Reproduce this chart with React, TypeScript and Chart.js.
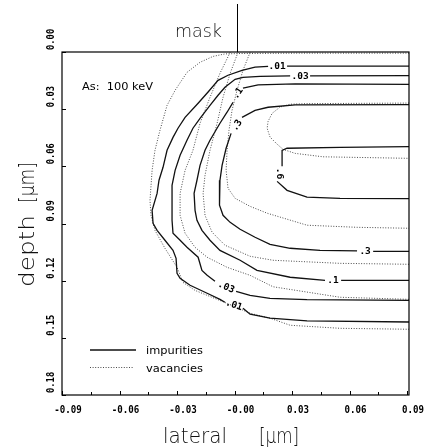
import { useEffect, useRef } from 'react';
import { Chart, registerables } from 'chart.js';

Chart.register(...registerables);

// ---- axes ----
const xTickValues = [-0.09, -0.06, -0.03, 0, 0.03, 0.06, 0.09];
const xTickLabels = ['-0.09', '-0.06', '-0.03', '-0.00', '0.03', '0.06', '0.09'];
const yTickValues = [0, 0.03, 0.06, 0.09, 0.12, 0.15, 0.18];
const yTickLabels = ['0.00', '0.03', '0.06', '0.09', '0.12', '0.15', '0.18'];

// ---- impurity iso-concentration contours (solid), split where the level label sits ----
const imp01a = [[0.091, 0.0074], [0.0274, 0.0074]];
const imp01b = [
  [0.0175, 0.0075], [0.0107, 0.0079], [0.0039, 0.0096], [-0.0034, 0.0122], [-0.0086, 0.0149],
  [-0.0138, 0.021], [-0.019, 0.0269], [-0.0258, 0.0343], [-0.0295, 0.04], [-0.0321, 0.0448],
  [-0.0352, 0.0516], [-0.0373, 0.0605], [-0.0394, 0.0673], [-0.0404, 0.0742], [-0.043, 0.0831],
  [-0.0425, 0.0899], [-0.0404, 0.0936], [-0.0363, 0.0988], [-0.0321, 0.1041], [-0.0305, 0.1083],
  [-0.03, 0.1161], [-0.0284, 0.1188], [-0.0232, 0.1224], [-0.0143, 0.1266], [-0.0076, 0.1298],
  [-0.005, 0.1313],
];
const imp01c = [[0.0044, 0.1345], [0.0081, 0.1376], [0.0185, 0.1397], [0.0378, 0.1411], [0.091, 0.1417]];

const imp03a = [[0.091, 0.0124], [0.0394, 0.0125]];
const imp03b = [
  [0.029, 0.0125], [0.0133, 0.0128], [0.0044, 0.0133], [0.0003, 0.0143], [-0.005, 0.0185],
  [-0.0086, 0.0227], [-0.0128, 0.028], [-0.018, 0.0348], [-0.0217, 0.04], [-0.0248, 0.0463],
  [-0.0284, 0.0542], [-0.031, 0.0621], [-0.0326, 0.07], [-0.0326, 0.0778], [-0.0326, 0.0883],
  [-0.0321, 0.0951], [-0.0284, 0.0988], [-0.0248, 0.1025], [-0.019, 0.1077], [-0.017, 0.1146],
  [-0.0143, 0.1172], [-0.0102, 0.1203],
];
const imp03c = [[0.0008, 0.1256], [0.0081, 0.1277], [0.0185, 0.1293], [0.0378, 0.13], [0.091, 0.1303]];

const imp1a = [[0.091, 0.017], [0.0316, 0.0167], [0.0123, 0.0172], [0.0044, 0.019]];
const imp1b = [
  [-0.0008, 0.0264], [-0.0039, 0.0316], [-0.0076, 0.0374], [-0.0128, 0.0463], [-0.0154, 0.0516],
  [-0.018, 0.0595], [-0.0196, 0.0673], [-0.0211, 0.0742], [-0.0206, 0.0831], [-0.0196, 0.0883],
  [-0.017, 0.0936], [-0.0128, 0.0988], [-0.0076, 0.1041], [0.0029, 0.1093], [0.0117, 0.1146],
  [0.029, 0.1182], [0.0472, 0.1198],
];
const imp1c = [[0.0556, 0.1198], [0.091, 0.1198]];

const imp3a = [[0.091, 0.0276], [0.0316, 0.0277], [0.0175, 0.029], [0.0107, 0.0306], [0.0039, 0.0343]];
const imp3b = [
  [-0.0018, 0.0427], [-0.0044, 0.0505], [-0.0065, 0.0595], [-0.0076, 0.0673], [-0.0081, 0.0742],
  [-0.0076, 0.0804], [-0.006, 0.0857], [-0.0023, 0.0894], [0.0029, 0.093], [0.0107, 0.0972],
  [0.0185, 0.1009], [0.029, 0.103], [0.0446, 0.1041], [0.0639, 0.1044],
];
const imp3c = [[0.0723, 0.1046], [0.091, 0.1046]];

const imp6a = [[0.091, 0.0497], [0.055, 0.05], [0.0274, 0.0505], [0.0248, 0.0516], [0.0248, 0.06]];
const imp6b = [[0.0222, 0.0679], [0.0274, 0.0726], [0.0378, 0.0762], [0.055, 0.0768], [0.091, 0.0769]];

// ---- vacancy contours (dotted) ----
const vac1 = [
  [0.091, 0.0006], [0.0342, 0.0006], [0.0029, 0.0008], [-0.005, 0.001], [-0.0112, 0.0023],
  [-0.018, 0.0054], [-0.0248, 0.0107], [-0.031, 0.0201], [-0.0352, 0.028], [-0.0389, 0.0411],
  [-0.0415, 0.0516], [-0.043, 0.0621], [-0.0441, 0.0778], [-0.0436, 0.0857], [-0.0415, 0.0936],
  [-0.0363, 0.103], [-0.03, 0.113], [-0.0269, 0.1209], [-0.0206, 0.1251], [-0.0143, 0.1277],
  [-0.0039, 0.1319], [0.0081, 0.1371], [0.0185, 0.1397], [0.029, 0.1434], [0.055, 0.145], [0.091, 0.1455],
];
const vac2 = [
  [-0.0023, 0.0002], [-0.0076, 0.0112], [-0.0128, 0.0238], [-0.018, 0.0374], [-0.0217, 0.0516],
  [-0.0258, 0.0621], [-0.0284, 0.0742], [-0.0284, 0.0857], [-0.0258, 0.0951], [-0.0206, 0.1025],
  [-0.0143, 0.1077], [-0.0039, 0.113], [0.0081, 0.1172], [0.0201, 0.1232], [0.055, 0.1287], [0.091, 0.1298],
];
const vac3 = [
  [0.0018, 0.0002], [-0.0023, 0.0112], [-0.006, 0.0238], [-0.0091, 0.0374], [-0.0128, 0.0516],
  [-0.0154, 0.0647], [-0.0164, 0.0742], [-0.0154, 0.0857], [-0.0117, 0.0946], [-0.005, 0.1014],
  [0.0081, 0.1072], [0.0201, 0.1093], [0.055, 0.1109], [0.091, 0.1114],
];
const vac4 = [
  [0.0081, 0.0002], [0.0044, 0.0096], [0.0013, 0.0201], [-0.0013, 0.0306], [-0.0029, 0.0411],
  [-0.0039, 0.0516], [-0.0044, 0.0621], [-0.0034, 0.0715], [0.0003, 0.0768], [0.0081, 0.081],
  [0.017, 0.0846], [0.0378, 0.0909], [0.0639, 0.092], [0.091, 0.0925],
];
const vac5 = [
  [0.091, 0.0268], [0.0378, 0.0271], [0.029, 0.0274], [0.0237, 0.0289], [0.0196, 0.0322],
  [0.0175, 0.0364], [0.017, 0.04], [0.0185, 0.0446], [0.0217, 0.0479], [0.0253, 0.0511],
  [0.0316, 0.0532], [0.0462, 0.055], [0.091, 0.0558],
];

// ---- contour level labels (text, data position, angle in degrees) ----
const levelTexts = ['.01', '.03', '.1', '.3', '.6', '.3', '.1', '.03', '.01'];
const levelX = [0.0222, 0.0342, 0.0018, 0.0013, 0.0232, 0.0681, 0.0514, -0.0044, -0.0003];
const levelY = [0.0075, 0.0128, 0.0217, 0.0385, 0.0637, 0.1046, 0.1198, 0.1235, 0.1329];
const levelAngle = [0, 0, -55, -58, 90, 0, 0, 24, 19];

const impuritySegments = [imp01a, imp01b, imp01c, imp03a, imp03b, imp03c, imp1a, imp1b, imp1c, imp3a, imp3b, imp3c, imp6a, imp6b];
const vacancyContours = [vac1, vac2, vac3, vac4, vac5];

const SOLID = { color: '#111', width: 1.3 };
const DOTTED = { color: '#4a4a4a', width: 1, dash: [1, 1.6] };
const MONO = '"DejaVu Sans Mono", monospace';
const SANS = '"DejaVu Sans", sans-serif';

function fitText(ctx: CanvasRenderingContext2D, text: string, x: number, y: number, width: number, rotate: boolean) {
  ctx.save();
  ctx.translate(x, y);
  if (rotate) ctx.rotate(-Math.PI / 2);
  const w = ctx.measureText(text).width;
  ctx.scale(width / w, 1);
  ctx.textAlign = 'left';
  ctx.textBaseline = 'alphabetic';
  ctx.fillText(text, 0, 0);
  ctx.restore();
}

const decorPlugin = {
  id: 'decor',
  afterDatasetsDraw(chart: any) {
    const { ctx } = chart;
    const xs = chart.scales.x;
    const ys = chart.scales.y;
    ctx.save();
    ctx.fillStyle = '#000';
    ctx.font = 'bold 9.5px ' + MONO;
    ctx.textAlign = 'center';
    ctx.textBaseline = 'middle';
    levelTexts.forEach((t, i) => {
      ctx.save();
      ctx.translate(xs.getPixelForValue(levelX[i]), ys.getPixelForValue(levelY[i]));
      ctx.rotate((levelAngle[i] * Math.PI) / 180);
      ctx.fillText(t, 0, 0);
      ctx.restore();
    });
    ctx.restore();
  },
  afterDraw(chart: any) {
    const { ctx, chartArea: ca } = chart;
    const xs = chart.scales.x;
    const ys = chart.scales.y;
    ctx.save();
    // frame
    ctx.strokeStyle = '#000';
    ctx.lineWidth = 1.2;
    ctx.strokeRect(ca.left, ca.top, ca.right - ca.left, ca.bottom - ca.top);
    // tick marks (inward)
    ctx.lineWidth = 1;
    ctx.beginPath();
    xTickValues.forEach((v, i) => {
      const px = Math.round(xs.getPixelForValue(v)) + 0.5;
      ctx.moveTo(px, ca.bottom);
      ctx.lineTo(px, ca.bottom - 4);
      if (i < xTickValues.length - 1) {
        const pm = Math.round(xs.getPixelForValue(v + 0.015)) + 0.5;
        ctx.moveTo(pm, ca.bottom);
        ctx.lineTo(pm, ca.bottom - 3);
      }
    });
    yTickValues.forEach((v) => {
      const py = Math.round(ys.getPixelForValue(v)) + 0.5;
      ctx.moveTo(ca.left, py);
      ctx.lineTo(ca.left + 4, py);
    });
    ctx.stroke();
    // tick labels
    ctx.fillStyle = '#000';
    ctx.font = 'bold 11px ' + MONO;
    xTickValues.forEach((v, i) => {
      const t = xTickLabels[i];
      const w = t.length * 5.5;
      fitText(ctx, t, xs.getPixelForValue(v) + 6 - w / 2, ca.bottom + 17.5, w, false);
    });
    yTickValues.forEach((v, i) => {
      const t = yTickLabels[i];
      fitText(ctx, t, ca.left - 8.5, ys.getPixelForValue(v) - 2, t.length * 5.3, true);
    });
    // axis titles
    ctx.fillStyle = '#111';
    ctx.font = '300 21px ' + SANS;
    fitText(ctx, 'lateral', 163, 443, 64, false);
    fitText(ctx, '[µm]', 259, 443, 40, false);
    fitText(ctx, 'depth', 34, 287, 72, true);
    fitText(ctx, '[µm]', 34, 203, 41, true);
    // mask
    ctx.font = '300 17px ' + SANS;
    fitText(ctx, 'mask', 175, 37, 47, false);
    const mx = Math.round(xs.getPixelForValue(0.0012)) + 0.5;
    ctx.strokeStyle = '#000';
    ctx.lineWidth = 1;
    ctx.beginPath();
    ctx.moveTo(mx, 4);
    ctx.lineTo(mx, ca.top);
    ctx.stroke();
    // annotation
    ctx.fillStyle = '#000';
    ctx.font = '11px ' + SANS;
    fitText(ctx, 'As:  100 keV', 82, 90, 71, false);
    // legend
    ctx.strokeStyle = SOLID.color;
    ctx.lineWidth = SOLID.width;
    ctx.beginPath();
    ctx.moveTo(90, 350);
    ctx.lineTo(136, 350);
    ctx.stroke();
    ctx.strokeStyle = DOTTED.color;
    ctx.lineWidth = DOTTED.width;
    ctx.setLineDash(DOTTED.dash);
    ctx.beginPath();
    ctx.moveTo(90, 367.5);
    ctx.lineTo(133, 367.5);
    ctx.stroke();
    ctx.setLineDash([]);
    ctx.fillStyle = '#000';
    fitText(ctx, 'impurities', 146, 354, 57, false);
    fitText(ctx, 'vacancies', 146, 372, 57, false);
    ctx.restore();
  },
};

export default function App() {
  const canvasRef = useRef<HTMLCanvasElement | null>(null);

  useEffect(() => {
    if (!canvasRef.current) return;
    const datasets: any[] = [
      ...impuritySegments.map((seg) => ({
        label: 'impurities',
        data: seg.map(([x, y]) => ({ x, y })),
        showLine: true,
        borderColor: SOLID.color,
        borderWidth: SOLID.width,
        pointRadius: 0,
        fill: false,
        tension: 0,
      })),
      ...vacancyContours.map((seg) => ({
        label: 'vacancies',
        data: seg.map(([x, y]) => ({ x, y })),
        showLine: true,
        borderColor: DOTTED.color,
        borderWidth: DOTTED.width,
        borderDash: DOTTED.dash,
        pointRadius: 0,
        fill: false,
        tension: 0,
      })),
    ];
    const chart = new Chart(canvasRef.current, {
      type: 'scatter',
      data: { datasets },
      options: {
        responsive: false,
        maintainAspectRatio: false,
        animation: false,
        devicePixelRatio: 1,
        layout: { padding: { left: 0, right: 20, top: 52, bottom: 0 } },
        plugins: { legend: { display: false }, tooltip: { enabled: false } },
        scales: {
          x: {
            type: 'linear',
            min: -0.09,
            max: 0.091,
            afterBuildTicks: (s: any) => {
              s.ticks = xTickValues.map((v) => ({ value: v }));
            },
            afterFit: (s: any) => {
              s.height = 53;
            },
            ticks: { display: false },
            grid: { display: false },
            border: { display: false },
          },
          y: {
            type: 'linear',
            reverse: true,
            min: 0,
            max: 0.18,
            afterBuildTicks: (s: any) => {
              s.ticks = yTickValues.map((v) => ({ value: v }));
            },
            afterFit: (s: any) => {
              s.width = 62;
            },
            ticks: { display: false },
            grid: { display: false },
            border: { display: false },
          },
        },
      },
      plugins: [decorPlugin],
    });
    return () => chart.destroy();
  }, []);

  return (
    <div style={{ position: 'absolute', left: 0, top: 0, width: 429, height: 448, background: '#fff' }}>
      <canvas ref={canvasRef} width={429} height={448} style={{ display: 'block' }} />
    </div>
  );
}
